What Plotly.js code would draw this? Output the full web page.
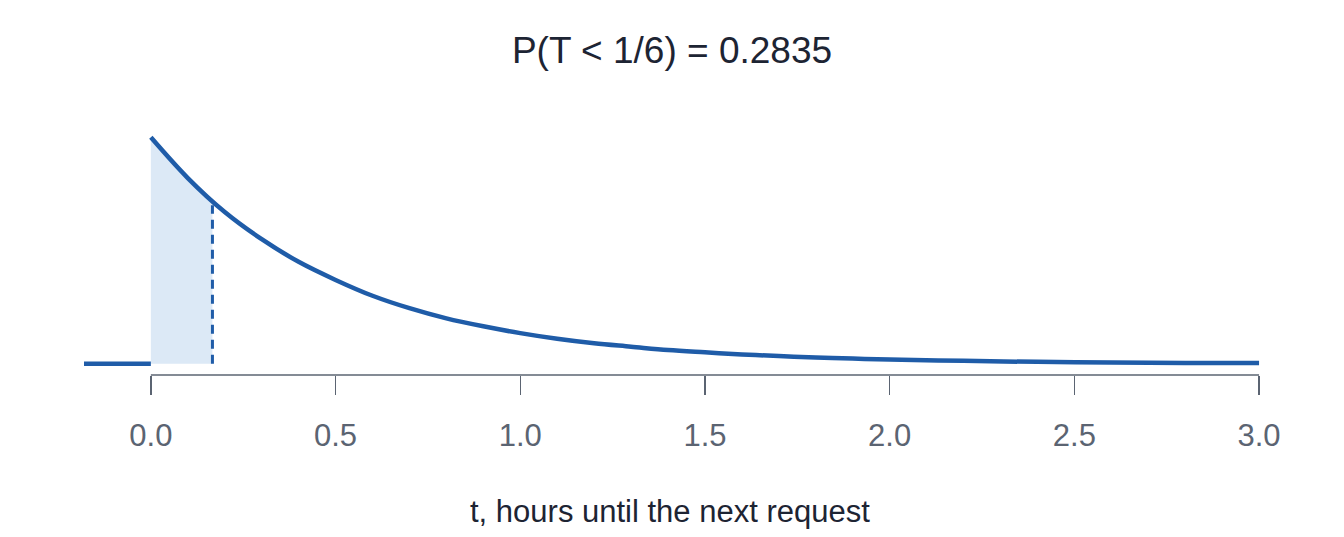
<!DOCTYPE html>
<html>
<head>
<meta charset="utf-8">
<script src="https://cdn.plot.ly/plotly-3.0.1.min.js"></script>
<style>
  html, body { margin: 0; padding: 0; background: #fff; }
  #chart { width: 1344px; height: 537px; }
</style>
</head>
<body>
<div id="chart"></div>
<script>
// density, t in hours
var tVals = [0, 0.1, 0.2, 0.3, 0.4, 0.5, 0.6, 0.7, 0.8, 0.9, 1.0, 1.1, 1.2, 1.3, 1.4, 1.5,
             1.6, 1.7, 1.8, 1.9, 2.0, 2.2, 2.4, 2.6, 2.8, 3.0]
var dens = [2.00, 1.64, 1.34, 1.10, 0.90, 0.74, 0.60, 0.49, 0.40, 0.33, 0.27, 0.22, 0.18, 0.15, 0.12, 0.10,
            0.082, 0.067, 0.055, 0.045, 0.037, 0.025, 0.016, 0.011, 0.007, 0.005]
// left part, density zero before t = 0
var tLeft = [-0.2, 0]
var densLeft = [0, 0]
// shaded region P(T < 1/6)
var tShade = [0, 0.05, 0.1, 0.1667]
var densShade = [2.00, 1.81, 1.64, 1.43]
var cut = 0.1667
var cutDens = 1.40
var tickVals = [0, 0.5, 1, 1.5, 2, 2.5, 3]
var tickText = ['0.0', '0.5', '1.0', '1.5', '2.0', '2.5', '3.0']

var blue = '#1f5ca8'
var grey = '#5b6472'

var shade = {
    x: tShade,
    y: densShade,
    mode: 'lines',
    type: 'scatter',
    fill: 'tozeroy',
    fillcolor: '#dce9f6',
    line: { width: 0, shape: 'spline' },
    hoverinfo: 'skip'
};

var cutLine = {
    x: [cut, cut],
    y: [0, cutDens],
    mode: 'lines',
    type: 'scatter',
    line: { color: blue, width: 3, dash: '9px,6px' }
};

var left = {
    x: tLeft,
    y: densLeft,
    mode: 'lines',
    type: 'scatter',
    line: { color: blue, width: 4.5 }
};

var curve = {
    x: tVals,
    y: dens,
    mode: 'lines',
    type: 'scatter',
    line: { color: blue, width: 4.5, shape: 'spline' }
};

var layout = {
    width: 1344,
    height: 537,
    margin: { l: 84, r: 48, t: 126, b: 162 },
    paper_bgcolor: '#fff',
    plot_bgcolor: '#fff',
    showlegend: false,
    font: { family: 'Liberation Sans, Arial, sans-serif' },
    title: {
        text: 'P(T < 1/6) = 0.2835',
        font: { size: 37, color: '#1d2433' },
        xref: 'container', x: 0.5, xanchor: 'center',
        yref: 'container', y: 1 - 50 / 537, yanchor: 'middle'
    },
    xaxis: {
        range: [-0.181, 3.1],
        showgrid: false,
        zeroline: false,
        showline: false,
        tickvals: tickVals,
        ticktext: tickText,
        ticks: 'outside',
        ticklen: 19,
        tickwidth: 1.5,
        tickcolor: grey,
        ticklabelstandoff: 14,
        tickfont: { size: 31, color: grey }
    },
    yaxis: {
        range: [-0.1, 2.1],
        visible: false,
        showgrid: false,
        zeroline: false
    },
    shapes: [{
        type: 'line', xref: 'x', yref: 'paper',
        x0: 0, x1: 3, y0: 0, y1: 0,
        line: { color: grey, width: 1.5 }
    }],
    annotations: [{
        text: 't, hours until the next request',
        xref: 'paper', yref: 'paper',
        x: (670 - 84) / 1212, y: (375 - 511) / 249,
        xanchor: 'center', yanchor: 'middle',
        showarrow: false,
        font: { size: 31, color: '#1d2433' }
    }]
};

Plotly.newPlot('chart', [shade, cutLine, left, curve], layout, { displayModeBar: false, staticPlot: true });
</script>
</body>
</html>
